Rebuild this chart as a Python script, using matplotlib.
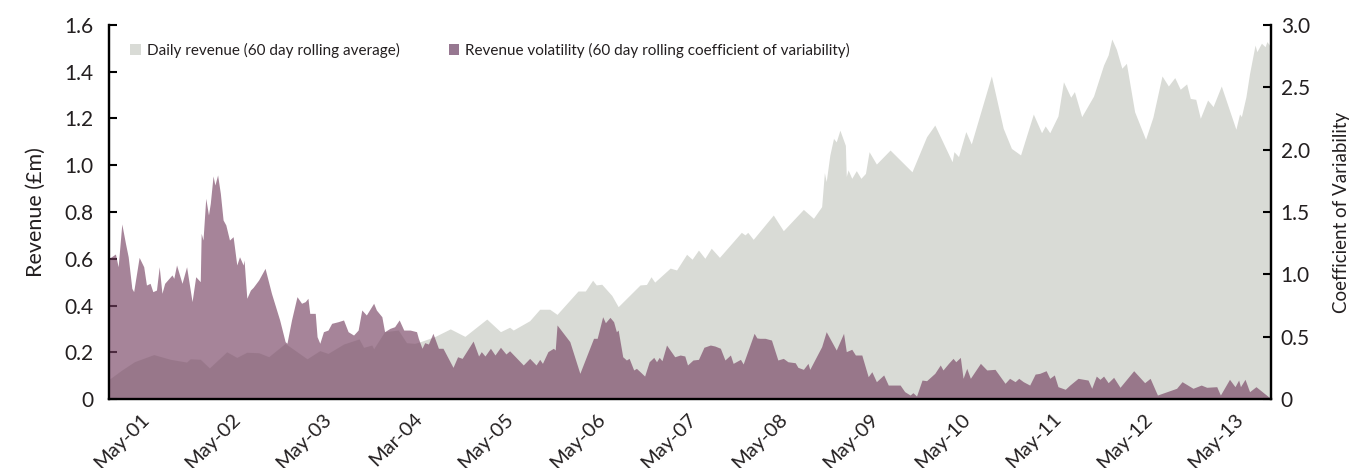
import matplotlib.pyplot as plt
from matplotlib.patches import Patch
from matplotlib.ticker import FuncFormatter

plt.rcParams['font.family'] = ['Lato', 'DejaVu Sans']

# Daily revenue (60 day rolling average), £m, decimal years
rev_x = [2001.00, 2001.14, 2001.28, 2001.49, 2001.67, 2001.85, 2001.89, 2002.00, 2002.10, 2002.29,
         2002.40, 2002.51, 2002.64, 2002.75, 2002.93, 2003.17, 2003.31, 2003.40, 2003.57, 2003.74,
         2003.79, 2003.88, 2003.90, 2004.02, 2004.17, 2004.26, 2004.35, 2004.41, 2004.57, 2004.74,
         2004.90, 2005.14, 2005.29, 2005.39, 2005.43, 2005.61, 2005.72, 2005.83, 2005.91, 2006.14,
         2006.22, 2006.30, 2006.34, 2006.40, 2006.51, 2006.58, 2006.82, 2006.89, 2006.94, 2006.98,
         2007.15, 2007.22, 2007.33, 2007.39, 2007.46, 2007.53, 2007.60, 2007.69, 2007.93, 2007.97,
         2008.00, 2008.06, 2008.28, 2008.39, 2008.61, 2008.72, 2008.81, 2008.84, 2008.86, 2008.90,
         2008.94, 2008.97, 2009.01, 2009.07, 2009.08, 2009.10, 2009.14, 2009.19, 2009.24, 2009.29,
         2009.33, 2009.41, 2009.56, 2009.80, 2009.96, 2010.05, 2010.24, 2010.26, 2010.31, 2010.39,
         2010.45, 2010.67, 2010.80, 2010.89, 2010.99, 2011.13, 2011.22, 2011.26, 2011.31, 2011.40,
         2011.46, 2011.54, 2011.58, 2011.66, 2011.79, 2011.90, 2011.95, 2011.99, 2012.04, 2012.10,
         2012.15, 2012.24, 2012.36, 2012.44, 2012.54, 2012.61, 2012.68, 2012.74, 2012.81, 2012.85,
         2012.91, 2012.96, 2013.04, 2013.10, 2013.19, 2013.35, 2013.39, 2013.41, 2013.46, 2013.50,
         2013.56, 2013.58, 2013.63, 2013.67, 2013.69, 2013.73]
rev_y = [0.084, 0.124, 0.160, 0.190, 0.170, 0.158, 0.172, 0.170, 0.133, 0.202,
         0.178, 0.200, 0.198, 0.181, 0.238, 0.172, 0.207, 0.195, 0.235, 0.257,
         0.221, 0.231, 0.215, 0.288, 0.295, 0.241, 0.238, 0.245, 0.267, 0.300,
         0.268, 0.342, 0.288, 0.307, 0.295, 0.335, 0.384, 0.384, 0.362, 0.462,
         0.462, 0.508, 0.488, 0.491, 0.443, 0.395, 0.488, 0.490, 0.523, 0.500,
         0.560, 0.552, 0.619, 0.598, 0.637, 0.602, 0.645, 0.606, 0.713, 0.702,
         0.713, 0.683, 0.787, 0.720, 0.811, 0.773, 0.823, 0.968, 0.930, 1.044,
         1.115, 1.100, 1.150, 1.085, 0.952, 0.980, 0.944, 0.977, 0.944, 0.965,
         1.058, 1.005, 1.065, 0.972, 1.122, 1.172, 1.015, 1.058, 1.037, 1.144,
         1.091, 1.382, 1.158, 1.072, 1.044, 1.219, 1.139, 1.168, 1.139, 1.211,
         1.357, 1.291, 1.315, 1.208, 1.296, 1.429, 1.472, 1.540, 1.496, 1.415,
         1.436, 1.229, 1.111, 1.205, 1.382, 1.339, 1.375, 1.325, 1.348, 1.286,
         1.282, 1.201, 1.279, 1.251, 1.339, 1.154, 1.219, 1.208, 1.293, 1.393,
         1.514, 1.486, 1.522, 1.507, 1.529, 1.507]

# Revenue volatility (60 day rolling coefficient of variability)
vol_x = [2001.00, 2001.07, 2001.10, 2001.14, 2001.18, 2001.21, 2001.25, 2001.27, 2001.33, 2001.38,
         2001.41, 2001.45, 2001.48, 2001.52, 2001.55, 2001.58, 2001.61, 2001.69, 2001.71, 2001.74,
         2001.80, 2001.85, 2001.91, 2001.95, 2002.00, 2002.01, 2002.03, 2002.06, 2002.09, 2002.11,
         2002.14, 2002.16, 2002.19, 2002.22, 2002.25, 2002.28, 2002.32, 2002.36, 2002.40, 2002.43,
         2002.47, 2002.48, 2002.51, 2002.55, 2002.58, 2002.64, 2002.71, 2002.78, 2002.87, 2002.93,
         2002.95, 2003.00, 2003.06, 2003.11, 2003.15, 2003.18, 2003.20, 2003.26, 2003.28, 2003.31,
         2003.35, 2003.40, 2003.44, 2003.51, 2003.57, 2003.62, 2003.68, 2003.73, 2003.77, 2003.82,
         2003.90, 2003.93, 2003.99, 2004.02, 2004.08, 2004.13, 2004.18, 2004.23, 2004.30, 2004.37,
         2004.39, 2004.43, 2004.46, 2004.50, 2004.55, 2004.61, 2004.66, 2004.77, 2004.82, 2004.87,
         2004.99, 2005.05, 2005.08, 2005.12, 2005.18, 2005.23, 2005.29, 2005.35, 2005.39, 2005.54,
         2005.61, 2005.68, 2005.72, 2005.75, 2005.81, 2005.87, 2005.89, 2005.91, 2006.05, 2006.16,
         2006.31, 2006.35, 2006.41, 2006.44, 2006.49, 2006.53, 2006.56, 2006.58, 2006.63, 2006.67,
         2006.70, 2006.75, 2006.78, 2006.82, 2006.87, 2006.92, 2006.97, 2007.00, 2007.03, 2007.06,
         2007.11, 2007.20, 2007.26, 2007.31, 2007.34, 2007.40, 2007.46, 2007.52, 2007.59, 2007.64,
         2007.70, 2007.75, 2007.81, 2007.84, 2007.92, 2007.95, 2008.07, 2008.10, 2008.13, 2008.19,
         2008.26, 2008.33, 2008.39, 2008.44, 2008.52, 2008.55, 2008.61, 2008.66, 2008.68, 2008.81,
         2008.86, 2008.97, 2009.05, 2009.08, 2009.14, 2009.18, 2009.25, 2009.32, 2009.36, 2009.41,
         2009.49, 2009.54, 2009.67, 2009.72, 2009.78, 2009.81, 2009.85, 2009.91, 2009.96, 2010.05,
         2010.11, 2010.14, 2010.20, 2010.25, 2010.28, 2010.33, 2010.36, 2010.40, 2010.44, 2010.55,
         2010.62, 2010.71, 2010.82, 2010.87, 2010.93, 2010.97, 2011.02, 2011.09, 2011.15, 2011.20,
         2011.27, 2011.31, 2011.36, 2011.40, 2011.48, 2011.53, 2011.62, 2011.73, 2011.77, 2011.82,
         2011.86, 2011.90, 2011.95, 2012.01, 2012.08, 2012.23, 2012.35, 2012.41, 2012.49, 2012.70,
         2012.76, 2012.88, 2012.97, 2013.03, 2013.14, 2013.18, 2013.28, 2013.34, 2013.38, 2013.40,
         2013.45, 2013.50, 2013.57, 2013.73]
vol_y = [1.128, 1.163, 1.061, 1.404, 1.249, 1.141, 0.888, 0.861, 1.136, 1.061,
         0.914, 0.928, 0.861, 0.874, 1.061, 0.848, 0.928, 0.995, 0.968, 1.075,
         0.928, 1.061, 0.781, 0.981, 0.941, 1.329, 1.275, 1.610, 1.476, 1.570,
         1.789, 1.716, 1.797, 1.650, 1.436, 1.396, 1.275, 1.302, 1.075, 1.141,
         1.075, 1.115, 0.808, 0.874, 0.896, 0.955, 1.048, 0.848, 0.634, 0.460,
         0.447, 0.634, 0.821, 0.768, 0.781, 0.808, 0.687, 0.687, 0.500, 0.447,
         0.540, 0.553, 0.607, 0.620, 0.634, 0.540, 0.513, 0.553, 0.714, 0.674,
         0.768, 0.714, 0.660, 0.540, 0.567, 0.580, 0.634, 0.553, 0.553, 0.540,
         0.487, 0.407, 0.452, 0.441, 0.527, 0.407, 0.407, 0.254, 0.339, 0.326,
         0.465, 0.345, 0.380, 0.345, 0.407, 0.353, 0.415, 0.361, 0.387, 0.273,
         0.326, 0.273, 0.318, 0.286, 0.380, 0.407, 0.393, 0.594, 0.460, 0.206,
         0.487, 0.487, 0.660, 0.612, 0.655, 0.620, 0.540, 0.553, 0.339, 0.313,
         0.326, 0.233, 0.246, 0.219, 0.184, 0.299, 0.334, 0.299, 0.334, 0.307,
         0.433, 0.339, 0.353, 0.345, 0.273, 0.313, 0.318, 0.415, 0.433, 0.425,
         0.407, 0.313, 0.353, 0.286, 0.318, 0.281, 0.527, 0.490, 0.487, 0.487,
         0.473, 0.313, 0.326, 0.299, 0.291, 0.254, 0.238, 0.286, 0.238, 0.420,
         0.540, 0.393, 0.527, 0.380, 0.399, 0.353, 0.353, 0.179, 0.219, 0.139,
         0.193, 0.112, 0.112, 0.059, 0.032, 0.051, 0.024, 0.152, 0.147, 0.206,
         0.273, 0.233, 0.286, 0.326, 0.299, 0.334, 0.166, 0.246, 0.166, 0.286,
         0.233, 0.238, 0.126, 0.166, 0.139, 0.166, 0.139, 0.112, 0.200, 0.206,
         0.227, 0.166, 0.193, 0.099, 0.078, 0.112, 0.166, 0.152, 0.086, 0.184,
         0.158, 0.184, 0.131, 0.174, 0.094, 0.227, 0.131, 0.166, 0.032, 0.086,
         0.139, 0.086, 0.112, 0.094, 0.099, 0.032, 0.158, 0.099, 0.152, 0.099,
         0.158, 0.059, 0.099, 0.005]

tick_pos = [2001.34, 2002.34, 2003.34, 2004.34, 2005.34, 2006.34, 2007.34,
            2008.34, 2009.34, 2010.34, 2011.34, 2012.34, 2013.34]
tick_labels = ['May-01', 'May-02', 'May-03', 'Mar-04', 'May-05', 'May-06', 'May-07',
               'May-08', 'May-09', 'May-10', 'May-11', 'May-12', 'May-13']

GRAY = '#d9dbd6'
PURPLE = '#764262'
TEXT = '#231f20'

fig, ax = plt.subplots(figsize=(13.51, 4.68), dpi=100)
fig.subplots_adjust(left=0.0807, right=0.9408, top=0.9466, bottom=0.1474)
ax2 = ax.twinx()

ax.fill_between(rev_x, rev_y, 0, color=GRAY, lw=0)
ax2.fill_between(vol_x, vol_y, 0, color=PURPLE, alpha=0.65, lw=0)

ax.set_xlim(2001.0, 2013.735)
ax.set_ylim(0, 1.6)
ax2.set_ylim(0, 3.0)

ax.set_yticks([0, 0.2, 0.4, 0.6, 0.8, 1.0, 1.2, 1.4, 1.6])
ax2.set_yticks([0, 0.5, 1.0, 1.5, 2.0, 2.5, 3.0])
fmt = FuncFormatter(lambda v, p: '0' if v == 0 else '%.1f' % v)
ax.yaxis.set_major_formatter(fmt)
ax2.yaxis.set_major_formatter(fmt)

ax.set_xticks(tick_pos)
ax.set_xticklabels(tick_labels)
plt.setp(ax.get_xticklabels(), rotation=45, ha='right', rotation_mode='anchor')
ax.tick_params(axis='x', length=0, pad=8, labelsize=14.5, labelcolor=TEXT)
ax.tick_params(axis='y', direction='in', length=6, width=1.5, pad=11,
               labelsize=15, labelcolor=TEXT)
ax2.tick_params(axis='y', direction='in', length=6, width=1.5, pad=7,
                labelsize=15, labelcolor=TEXT)

for a in (ax, ax2):
    a.spines['top'].set_visible(False)
    for s in ('left', 'right', 'bottom'):
        a.spines[s].set_linewidth(1.6)
        a.spines[s].set_color('black')

ax.set_ylabel('Revenue (£m)', fontsize=15.5, color=TEXT)
ax.yaxis.set_label_coords(-0.054, 0.5)
ax2.set_ylabel('Coefficient of Variability', fontsize=13.5, color=TEXT)
ax2.yaxis.set_label_coords(1.0535, 0.5)

handles = [Patch(color=GRAY, lw=0), Patch(color='#977891', lw=0)]
labels = ['Daily revenue (60 day rolling average)',
          'Revenue volatility (60 day rolling coefficient of variability)']
ax2.legend(handles, labels, loc='upper left', bbox_to_anchor=(0.018, 0.952),
           ncol=2, frameon=False, fontsize=11, borderaxespad=0, borderpad=0,
           handlelength=0.7, handleheight=0.7, handletextpad=0.4,
           columnspacing=3.2, labelcolor=TEXT)

fig.savefig('out.png', dpi=100)
